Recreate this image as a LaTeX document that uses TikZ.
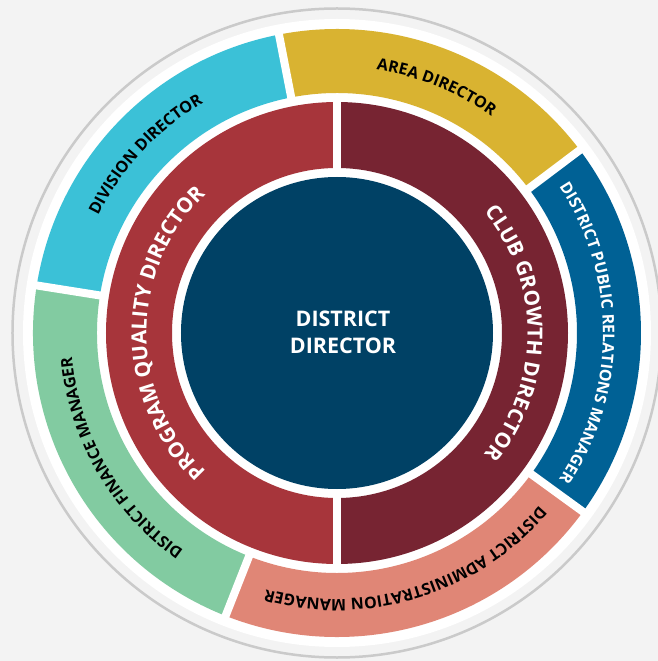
\documentclass[tikz,border=0pt]{standalone}
\usepackage{fontspec}
\setmainfont{Open Sans}
\usepackage{tikz}
\usetikzlibrary{decorations.text}

\definecolor{bgGrey}{HTML}{F3F3F3}
\definecolor{rimGrey}{HTML}{CACACA}
\definecolor{loyalBlue}{HTML}{004165}
\definecolor{progRed}{HTML}{A7353B}
\definecolor{growthMaroon}{HTML}{772432}
\definecolor{areaYellow}{HTML}{D9B331}
\definecolor{divCyan}{HTML}{3BC1D7}
\definecolor{finGreen}{HTML}{82CBA1}
\definecolor{admSalmon}{HTML}{E08676}
\definecolor{prBlue}{HTML}{006195}

\newcommand{\outerfont}{\fontsize{16}{18}\selectfont\bfseries}
\newcommand{\ringfont}{\fontsize{20.8}{22}\selectfont\bfseries}

% filled piece of a ring: colour, from, to, inner r, outer r
\newcommand{\ringsector}[5]{%
  \fill[#1] (#2:#5) arc[start angle=#2, end angle=#3, radius=#5]
    -- (#3:#4) arc[start angle=#3, end angle=#2, radius=#4] -- cycle;}

% text set clockwise round the centre: colour, from, to, r, font, text
\newcommand{\arcword}[6]{%
  \path[decorate, decoration={text along path, text align=center,
      text color=#1, text={|#5|#6}}]
    (#2:#4) arc[start angle=#2, end angle=#3, radius=#4];}

\begin{document}
\begin{tikzpicture}[x=1pt, y=1pt,
    gap/.style={white, line width=8}]
      \useasboundingbox (-337,-328) rectangle (321,333);
      \fill[bgGrey] (-337,-328) rectangle (321,333);

      \coordinate (c) at (0,0);

      % rim
      \draw[rimGrey, line width=2.5] (c) circle[radius=324.5];
      \fill[white] (c) circle[radius=314];

      % outer ring
      \ringsector{areaYellow}{37}{101}{240}{304}
      \ringsector{divCyan}{101}{171}{240}{304}
      \ringsector{finGreen}{171}{248.5}{240}{304}
      \ringsector{admSalmon}{248.5}{324}{240}{304}
      \ringsector{prBlue}{-36}{37}{240}{304}
      \foreach \a in {37,101,171,248.5,324}
        \draw[gap] (\a:232) -- (\a:310);

      % middle ring
      \ringsector{progRed}{90}{270}{165}{231}
      \ringsector{growthMaroon}{-90}{90}{165}{231}
      \foreach \a in {90,270}
        \draw[gap] (\a:160) -- (\a:235);

      % centre
      \fill[loyalBlue] (c) circle[radius=156];
      \node[text=white, align=center, font=\fontsize{21.5}{27.3}\selectfont\bfseries]
        (dd) at (6,1) {DISTRICT\\DIRECTOR};

      % labels
      \arcword{white}{250}{110}{190.5}{\ringfont}{PROGRAM QUALITY DIRECTOR}
      \arcword{white}{70}{-70}{190.5}{\ringfont}{CLUB GROWTH DIRECTOR}
      \arcword{black}{128}{8}{266}{\outerfont}{AREA DIRECTOR}
      \arcword{black}{197}{77}{266}{\outerfont}{DIVISION DIRECTOR}
      \arcword{black}{270}{150}{266}{\outerfont}{DISTRICT FINANCE MANAGER}
      \arcword{black}{347}{227}{266}{\outerfont}{DISTRICT ADMINISTRATION MANAGER}
      \arcword{white}{60}{-60}{266}{\outerfont}{DISTRICT PUBLIC RELATIONS MANAGER}
    \end{tikzpicture}
\end{document}
